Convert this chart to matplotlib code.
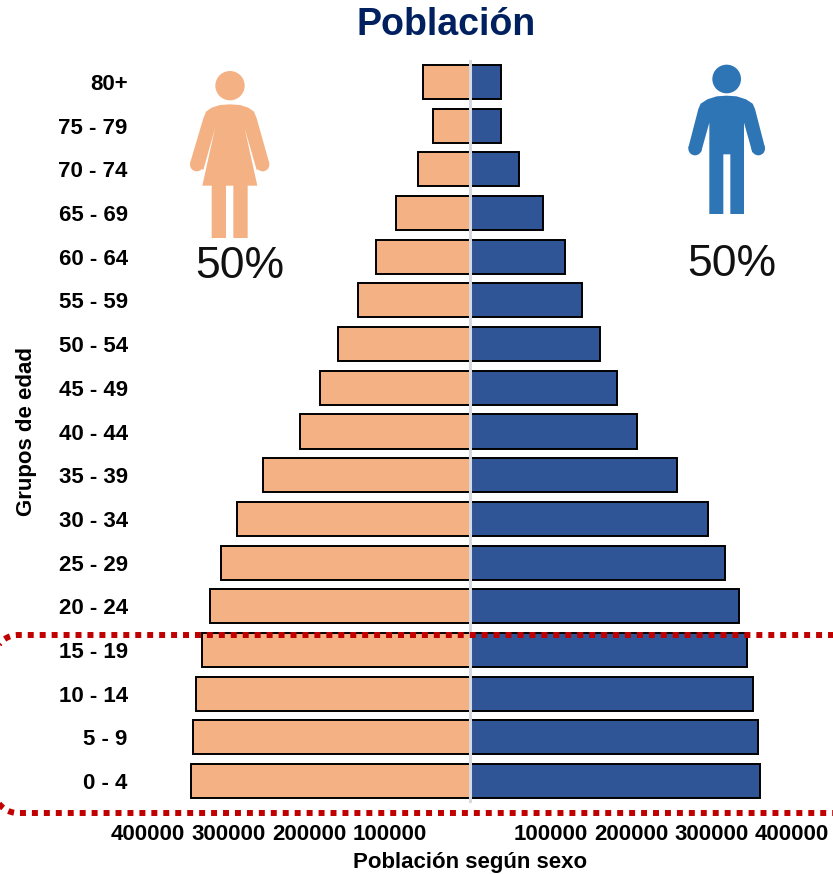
"""Pirámide de población por sexo"""

import matplotlib
matplotlib.use('Agg')
import matplotlib.pyplot as plt
import numpy as np
from matplotlib.patches import Circle, Polygon

plt.rcParams['font.family'] = ['Liberation Sans', 'DejaVu Sans']

grupos = ['0 - 4', '5 - 9', '10 - 14', '15 - 19', '20 - 24', '25 - 29', '30 - 34',
          '35 - 39', '40 - 44', '45 - 49', '50 - 54', '55 - 59', '60 - 64',
          '65 - 69', '70 - 74', '75 - 79', '80+']
mujeres = [346600, 344000, 340400, 332300, 323000, 308700, 289400, 257000, 211000,
           186300, 164000, 139000, 116800, 92000, 64600, 46000, 58400]
hombres = [360000, 357800, 351500, 344000, 334000, 316800, 295600, 257000, 207500,
           182600, 161500, 139000, 118000, 90700, 60900, 39000, 38500]
ticks_x = [-400000, -300000, -200000, -100000, 100000, 200000, 300000, 400000]

COLOR_MUJER = '#F4B183'
COLOR_HOMBRE = '#2F5597'
COLOR_ICONO_H = '#2E75B6'
ROJO = '#C00000'
W, H = 833, 874

fig = plt.figure(figsize=(W / 100, H / 100), dpi=100)
# eje principal: +-400000 cae en x=148 y x=792
ax = fig.add_axes([148 / W, 1 - 803 / H, 644 / W, 743 / H])

y_pos = range(len(grupos))
ax.barh(y_pos, [-v for v in mujeres], height=0.78, color=COLOR_MUJER,
        edgecolor='black', linewidth=1.4)
ax.barh(y_pos, hombres, height=0.78, color=COLOR_HOMBRE,
        edgecolor='black', linewidth=1.4)
ax.axvline(0, color='#D6DAE0', linewidth=2.2, zorder=5)

ax.set_xlim(-400000, 400000)
ax.set_ylim(-0.5, len(grupos) - 0.5)
ax.set_xticks(ticks_x)
ax.set_xticklabels([str(abs(t)) for t in ticks_x], fontsize=16, fontweight='bold')
ax.set_yticks(list(y_pos))
ax.set_yticklabels(grupos, fontsize=16, fontweight='bold')
ax.tick_params(axis='x', length=0, pad=15)
ax.tick_params(axis='y', length=0, pad=14.5)
for spine in ax.spines.values():
    spine.set_visible(False)

ax.set_xlabel('Población según sexo', fontsize=16, fontweight='bold')
ax.xaxis.set_label_coords(0.5, -0.0665)
ax.set_ylabel('Grupos de edad', fontsize=16, fontweight='bold')
ax.yaxis.set_label_coords(-0.173, 0.5)
ax.set_title('Población', fontsize=27, fontweight='bold', color='#002060', x=0.463, y=1.022)

# capa en pixeles para iconos y recuadro punteado
capa = fig.add_axes([0, 0, 1, 1])
capa.set_xlim(0, W)
capa.set_ylim(H, 0)
capa.axis('off')
capa.patch.set_alpha(0)


def zoom_pts(puntos, x0, y0):
    return [(x0 + px / 3, y0 + py / 3) for px, py in puntos]


# mujer
MX, MY = 170, 55
cuerpo_m = [(180, 148), (150, 150), (125, 158), (108, 170), (100, 190), (60, 325),
            (100, 345), (135, 220), (97, 392), (125, 392), (125, 549), (168, 549),
            (168, 392), (190, 392), (190, 549), (233, 549), (233, 392), (262, 392),
            (224, 220), (260, 345), (298, 325), (260, 190), (252, 170), (235, 158),
            (210, 150)]
capa.add_patch(Polygon(zoom_pts(cuerpo_m, MX, MY), closed=True, color=COLOR_MUJER, lw=0))
capa.add_patch(Circle((MX + 180 / 3, MY + 92 / 3), 44 / 3, color=COLOR_MUJER, lw=0))
capa.add_patch(Circle((MX + 80 / 3, MY + 329 / 3), 20 / 3, color=COLOR_MUJER, lw=0))
capa.add_patch(Circle((MX + 278 / 3, MY + 329 / 3), 20 / 3, color=COLOR_MUJER, lw=0))

# hombre
HX, HY = 670, 55
cuerpo_h = [(170, 122), (140, 124), (112, 133), (92, 146), (85, 162), (55, 278),
            (93, 292), (118, 203), (118, 477), (160, 477), (160, 298), (181, 298),
            (181, 477), (222, 477), (222, 203), (247, 292), (285, 278), (255, 162),
            (248, 146), (228, 133), (200, 124)]
capa.add_patch(Polygon(zoom_pts(cuerpo_h, HX, HY), closed=True, color=COLOR_ICONO_H, lw=0))
capa.add_patch(Circle((HX + 170 / 3, HY + 72 / 3), 43 / 3, color=COLOR_ICONO_H, lw=0))
capa.add_patch(Circle((HX + 75 / 3, HY + 281 / 3), 20 / 3, color=COLOR_ICONO_H, lw=0))
capa.add_patch(Circle((HX + 265 / 3, HY + 281 / 3), 20 / 3, color=COLOR_ICONO_H, lw=0))

capa.text(239.5, 267, '50%', fontsize=32, ha='center', va='center', color='#111111')
capa.text(731.5, 264, '50%', fontsize=32, ha='center', va='center', color='#111111')

# recuadro rojo punteado (se sale del lienzo por ambos lados)
ang = np.linspace(0, np.pi / 2, 30)
r = 24
esq_sup = (18 - r * np.sin(ang), 635 + r - r * np.cos(ang))
esq_inf = (18 - r * np.cos(ang), 813 - r + r * np.sin(ang))
rx = np.concatenate([[856], esq_sup[0], esq_inf[0], [856]])
ry = np.concatenate([[635], esq_sup[1], esq_inf[1], [813]])
capa.plot(rx, ry, color=ROJO, linewidth=4.3, linestyle=(0, (1, 1)),
          dash_capstyle='butt', dash_joinstyle='miter')

fig.savefig('out.png', dpi=100)
plt.close(fig)
